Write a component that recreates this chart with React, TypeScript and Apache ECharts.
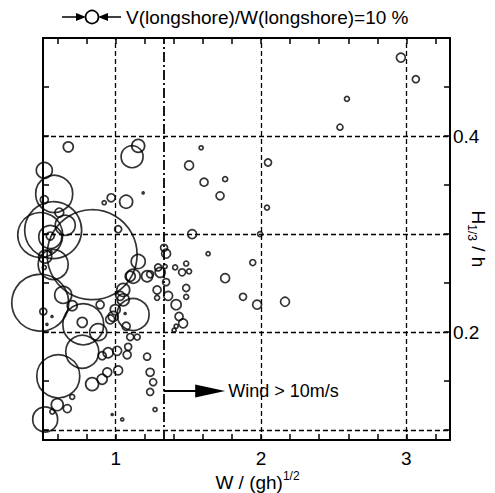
import React, { useEffect, useRef } from "react";
import * as echarts from "echarts";

// Points with W/(gh)^1/2 spread out (upper / right part)
const outerX = [2.962, 3.065, 2.591, 2.543, 2.048, 2.041, 1.993, 1.943, 2.165, 1.973, 1.876, 1.753, 1.636, 1.718, 1.753, 1.608, 1.505, 1.588, 1.526, 1.485, 1.457, 1.505, 1.485, 1.485, 1.409, 1.416, 1.436, 1.464, 1.416, 1.402, 1.361, 1.347, 1.285, 1.285, 1.306, 1.292, 1.340, 1.333, 1.347, 1.237, 1.216, 1.237, 1.258, 1.237, 1.271, 1.045, 0.976, 1.189];
const outerY = [0.480, 0.458, 0.438, 0.409, 0.373, 0.327, 0.300, 0.271, 0.231, 0.228, 0.236, 0.255, 0.280, 0.339, 0.356, 0.353, 0.370, 0.388, 0.300, 0.270, 0.261, 0.262, 0.245, 0.236, 0.266, 0.228, 0.216, 0.209, 0.206, 0.202, 0.237, 0.251, 0.243, 0.235, 0.261, 0.266, 0.267, 0.286, 0.280, 0.259, 0.175, 0.159, 0.149, 0.139, 0.121, 0.111, 0.116, 0.342];
const outerRatio = [6.9, 5.4, 3.8, 4.6, 5.4, 3.8, 3.8, 4.6, 6.9, 6.9, 5.4, 6.9, 3.1, 6.2, 3.8, 6.2, 6.9, 3.1, 6.9, 3.8, 5.4, 3.8, 5.4, 3.8, 3.8, 7.7, 6.2, 6.9, 3.1, 3.1, 6.9, 5.4, 6.2, 3.8, 7.7, 5.4, 3.1, 5.4, 6.9, 5.4, 5.4, 6.2, 5.4, 5.4, 3.1, 2.3, 1.5, 1.5];

// Dense cluster at low W/(gh)^1/2
const clusterX = [1.072, 0.969, 0.921, 1.113, 1.155, 0.674, 0.509, 0.577, 0.509, 0.612, 1.017, 0.570, 0.838, 0.481, 0.653, 0.550, 0.550, 0.515, 0.570, 0.509, 0.481, 0.639, 0.701, 0.502, 0.777, 0.770, 0.880, 1.120, 1.155, 1.216, 1.100, 0.770, 0.605, 0.515, 0.598, 0.667, 0.564, 0.838, 0.907, 0.942, 1.017, 0.701, 0.948, 1.010, 1.079, 1.086, 0.907, 1.100, 1.148, 1.052, 0.997, 0.962, 1.072, 0.893, 1.120, 1.052, 0.983, 1.031, 0.555, 0.527, 0.562, 1.065];
const clusterY = [0.333, 0.337, 0.332, 0.379, 0.390, 0.389, 0.365, 0.341, 0.335, 0.322, 0.305, 0.304, 0.279, 0.299, 0.309, 0.297, 0.298, 0.277, 0.269, 0.266, 0.230, 0.238, 0.227, 0.221, 0.208, 0.210, 0.200, 0.218, 0.272, 0.257, 0.257, 0.180, 0.155, 0.111, 0.126, 0.122, 0.119, 0.147, 0.152, 0.159, 0.161, 0.134, 0.179, 0.181, 0.177, 0.185, 0.176, 0.195, 0.195, 0.233, 0.223, 0.213, 0.206, 0.228, 0.257, 0.243, 0.216, 0.237, 0.282, 0.208, 0.216, 0.219];
const clusterRatio = [10, 6.2, 3.1, 16.9, 10, 7.7, 12.3, 28.5, 6.2, 6.9, 5.4, 43.8, 69.2, 34.6, 15.4, 17.7, 6.2, 10, 23.1, 3.1, 43.8, 13.1, 7.7, 5.4, 31.5, 7.7, 13.1, 24.6, 10.8, 8.5, 7.7, 25.4, 33.1, 19.2, 9.2, 6.2, 3.8, 10, 7.7, 6.9, 6.9, 3.8, 7.7, 6.9, 6.2, 5.4, 6.2, 5.4, 4.6, 9.2, 7.7, 6.9, 6.2, 6.2, 10.8, 10, 7.7, 6.9, 1.5, 1.5, 1.5, 1.5];

// Axes
const xTicks = [0.6, 0.8, 1.0, 1.2, 1.4, 1.6, 1.8, 2.0, 2.2, 2.4, 2.6, 2.8, 3.0, 3.2];
const xLabels = [1, 2, 3];
const yTicks = [0.1, 0.15, 0.2, 0.25, 0.3, 0.35, 0.4, 0.45];
const yLabels = [0.2, 0.4];
const xGridLines = [1, 2, 3];
const yGridLines = [0.1, 0.2, 0.3, 0.4];

// Wind annotation
const windThreshold = 1.33;
const windArrowX = [1.33, 1.65];
const windArrowY = 0.14;
const windLabel = "Wind > 10m/s";
const legendRatio = 10;

const FONT = "'Liberation Sans', Arial, Helvetica, sans-serif";
const SIZE_PER_PERCENT = 1.3;

export default function App() {
  const ref = useRef<HTMLDivElement>(null);

  useEffect(() => {
    document.body.style.margin = "0";
    if (!ref.current) return;
    const chart = echarts.init(ref.current, null, { renderer: "svg" });

    const data = [
      ...outerX.map((x, i) => [x, outerY[i], outerRatio[i]]),
      ...clusterX.map((x, i) => [x, clusterY[i], clusterRatio[i]]),
    ];

    const dashed = { color: "#000", width: 1.3, type: [5, 3] as any };

    const baseX = {
      type: "value" as const,
      min: 0.5,
      max: 3.3,
      splitLine: { show: false },
      axisLine: { show: true, onZero: false, lineStyle: { color: "#000", width: 2 } },
      axisTick: { show: true, inside: true, length: 6, customValues: xTicks, lineStyle: { color: "#000", width: 1.5 } },
    };
    const baseY = {
      type: "value" as const,
      min: 0.09,
      max: 0.5,
      splitLine: { show: false },
      axisLine: { show: true, onZero: false, lineStyle: { color: "#000", width: 2 } },
      axisTick: { show: true, inside: true, length: 6, customValues: yTicks, lineStyle: { color: "#000", width: 1.5 } },
    };

    chart.setOption({
      animation: false,
      backgroundColor: "#fff",
      textStyle: { fontFamily: FONT },
      grid: { left: 43, right: 45, top: 38, bottom: 53, containLabel: false, outerBoundsMode: "none" },
      xAxis: [
        {
          ...baseX,
          position: "bottom",
          axisLabel: {
            customValues: xLabels,
            formatter: (v: number) => String(Math.round(v)),
            color: "#000",
            fontSize: 19,
            fontFamily: FONT,
            margin: 9,
          },
          name: "{a|W / (gh)}{b|1/2}",
          nameLocation: "middle",
          nameGap: 30,
          nameMoveOverlap: false,
          nameTextStyle: {
            padding: [0, 0, 0, 22],
            rich: {
              a: { fontSize: 19, fontFamily: FONT, color: "#000", lineHeight: 24 },
              b: { fontSize: 12, fontFamily: FONT, color: "#000", verticalAlign: "top", lineHeight: 24 },
            },
          },
        },
        {
          ...baseX,
          position: "top",
          axisLabel: { show: false },
        },
      ],
      yAxis: [
        {
          ...baseY,
          position: "left",
          axisLabel: { show: false },
        },
        {
          ...baseY,
          position: "right",
          axisLabel: {
            customValues: yLabels,
            formatter: (v: number) => v.toFixed(1),
            color: "#000",
            fontSize: 19,
            fontFamily: FONT,
            margin: 3,
          },
          name: "{a|H}{b|1/3}{a| / h}",
          nameLocation: "middle",
          nameRotate: -90,
          nameGap: 16,
          nameMoveOverlap: false,
          nameTextStyle: {
            rich: {
              a: { fontSize: 19, fontFamily: FONT, color: "#000", lineHeight: 24 },
              b: { fontSize: 12, fontFamily: FONT, color: "#000", verticalAlign: "bottom", lineHeight: 24 },
            },
          },
        },
      ],
      series: [
        {
          type: "scatter",
          xAxisIndex: 0,
          yAxisIndex: 0,
          clip: false,
          symbol: "circle",
          symbolSize: (v: number[]) => v[2] * SIZE_PER_PERCENT,
          itemStyle: { color: "rgba(0,0,0,0)", borderColor: "#000", borderWidth: 1.7 },
          emphasis: { disabled: true },
          silent: true,
          data,
          markLine: {
            silent: true,
            symbol: ["none", "none"],
            label: { show: false },
            lineStyle: dashed,
            data: [
              ...xGridLines.map((v) => ({ xAxis: v })),
              ...yGridLines.map((v) => ({ yAxis: v })),
              { xAxis: windThreshold, lineStyle: { color: "#000", width: 1.8, type: [10, 3, 2, 3] } },
              [
                { coord: [windArrowX[0], windArrowY], symbol: "none" },
                {
                  coord: [windArrowX[1], windArrowY],
                  symbol: "triangle",
                  symbolSize: [13, 30],
                  lineStyle: { color: "#000", width: 2, type: "solid" },
                  label: {
                    show: true,
                    position: "end",
                    distance: 18,
                    formatter: windLabel,
                    color: "#000",
                    fontSize: 18,
                    fontFamily: FONT,
                  },
                },
              ],
            ],
          },
        },
      ],
      graphic: [
        { type: "line", shape: { x1: 62, y1: 17, x2: 80, y2: 17 }, style: { stroke: "#000", lineWidth: 1.5 } },
        { type: "polygon", shape: { points: [[76, 13], [86, 17], [76, 21]] }, style: { fill: "#000" } },
        { type: "circle", shape: { cx: 92, cy: 17, r: (legendRatio * SIZE_PER_PERCENT) / 2 }, style: { fill: "none", stroke: "#000", lineWidth: 1.7 } },
        { type: "polygon", shape: { points: [[108, 13], [98, 17], [108, 21]] }, style: { fill: "#000" } },
        { type: "line", shape: { x1: 104, y1: 17, x2: 121, y2: 17 }, style: { stroke: "#000", lineWidth: 1.5 } },
        {
          type: "text",
          x: 126,
          y: 17,
          style: {
            text: `V(longshore)/W(longshore)=${legendRatio} %`,
            fill: "#000",
            font: `19px ${FONT}`,
            verticalAlign: "middle",
            align: "left",
          },
        },
      ],
    });

    return () => chart.dispose();
  }, []);

  return <div ref={ref} style={{ width: 495, height: 493 }} />;
}
